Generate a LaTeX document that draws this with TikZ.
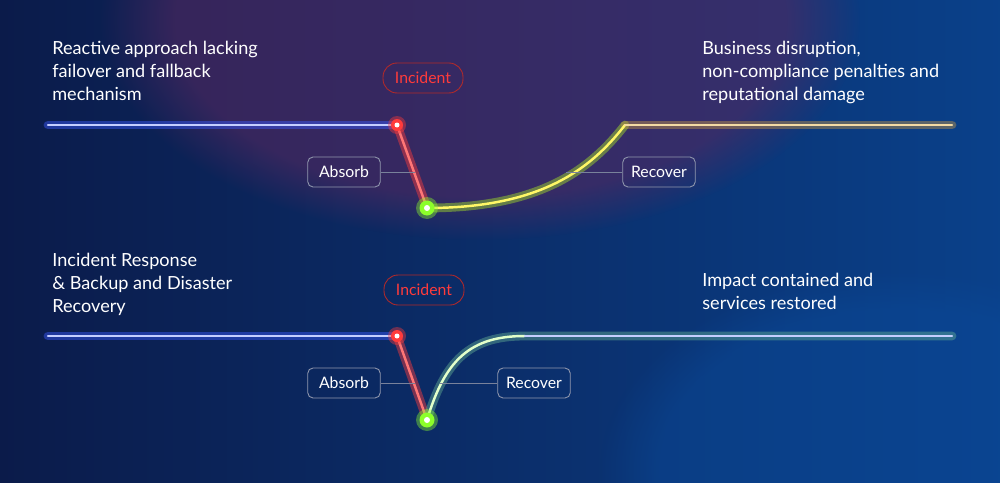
\documentclass[tikz,border=0pt]{standalone}
\usepackage{fontspec}
\setmainfont{Lato}
\usetikzlibrary{positioning,fadings}
\definecolor{bgdark}{HTML}{0B1B4A}
\definecolor{bgblue}{HTML}{0A4A9A}
\definecolor{bgpurple}{HTML}{5A2860}
\definecolor{glowblue}{HTML}{3A5BFF}
\definecolor{incred}{HTML}{FF3B3B}
\definecolor{recgreen}{HTML}{8CFF2A}
\definecolor{recorange}{HTML}{E0A21A}
\tikzset{
  tag/.style={draw=white!55!bgdark, rounded corners=3pt, text=white, font=\fontsize{9}{11}\selectfont,
    minimum width=1.45cm, minimum height=0.6cm, line width=0.5pt},
  incident/.style={tag, draw=incred!70!black, text=incred, rounded corners=8pt, minimum width=1.6cm},
  caption/.style={text=white, align=left, anchor=north west, font=\fontsize{10.3}{13}\selectfont, inner sep=0pt},
  pin/.style={draw=white!45!bgdark, line width=0.4pt},
  glow/.style={line width=5pt, draw opacity=0.45, line cap=round},
  core/.style={line width=1.4pt, line cap=round},
}
\begin{document}
\begin{tikzpicture}[x=0.02cm, y=-0.02cm]
  \useasboundingbox (0,0) rectangle (1000,483);
  % background
  \begin{scope}
    \clip (0,0) rectangle (1000,483);
    \shade[left color=bgdark, right color=bgblue!80!bgdark] (0,0) rectangle (1000,483);
    \fill[bgpurple, path fading=circle with fuzzy edge 20 percent, opacity=0.55] (480,20) ellipse (380 and 220);
    \fill[bgblue, path fading=circle with fuzzy edge 20 percent, opacity=0.45] (900,470) ellipse (300 and 200);
  \end{scope}

  % top: reactive
  \node[caption] (t1) at (52,41) {Reactive approach lacking\\failover and fallback\\mechanism};
  \node[caption] (t2) at (702,41) {Business disruption,\\non-compliance penalties and\\reputational damage};
  \coordinate (a0) at (48,125);
  \coordinate (a1) at (397,125);
  \coordinate (a2) at (427,208);
  \coordinate (a3) at (625,125);
  \coordinate (a4) at (952,125);
  \draw[glow, glowblue] (a0) -- (a1);
  \draw[core, white!70!glowblue] (a0) -- (a1);
  \draw[glow, incred] (a1) -- (a2);
  \draw[core, incred!70!white] (a1) -- (a2);
  \draw[glow, recgreen!70!recorange] (a2) .. controls (540,208) and (590,170) .. (a3);
  \draw[glow, recorange!80!glowblue] (a3) -- (a4);
  \draw[core, yellow!60!white] (a2) .. controls (540,208) and (590,170) .. (a3);
  \draw[core, recorange!40!white] (a3) -- (a4);
  \node[incident] (inc1) at (423,78) {Incident};
  \node[tag] (abs1) at (344,172) {Absorb};
  \node[tag] (rec1) at (659,172) {Recover};
  \coordinate (p1) at (415,172);
  \coordinate (q1) at (566,172);
  \draw[pin] (abs1.east) -- (p1);
  \draw[pin] (rec1.west) -- (q1);
  \fill[incred, opacity=0.4] (a1) circle (9);
  \fill[incred] (a1) circle (6);
  \fill[white] (a1) circle (2.5);
  \fill[recgreen, opacity=0.4] (a2) circle (11);
  \fill[recgreen] (a2) circle (7.5);
  \fill[white] (a2) circle (3);

  % bottom: IR and DR
  \node[caption] (b1) at (52,253) {Incident Response\\\& Backup and Disaster\\Recovery};
  \node[caption] (b2) at (702,273) {Impact contained and\\services restored};
  \coordinate (c0) at (48,336);
  \coordinate (c1) at (397,336);
  \coordinate (c2) at (427,420);
  \coordinate (c3) at (525,336);
  \coordinate (c4) at (952,336);
  \draw[glow, glowblue] (c0) -- (c1);
  \draw[core, white!70!glowblue] (c0) -- (c1);
  \draw[glow, incred] (c1) -- (c2);
  \draw[core, incred!70!white] (c1) -- (c2);
  \draw[glow, recgreen!50!glowblue] (c2) .. controls (445,360) and (470,336) .. (c3) -- (c4);
  \draw[core, white!75!recgreen] (c2) .. controls (445,360) and (470,336) .. (c3);
  \draw[core, white!70!glowblue] (c3) -- (c4);
  \node[incident] (inc2) at (424,290) {Incident};
  \node[tag] (abs2) at (344,383) {Absorb};
  \node[tag] (rec2) at (534,383) {Recover};
  \coordinate (p2) at (415,383);
  \coordinate (q2) at (440,383);
  \draw[pin] (abs2.east) -- (p2);
  \draw[pin] (rec2.west) -- (q2);
  \fill[incred, opacity=0.4] (c1) circle (9);
  \fill[incred] (c1) circle (6);
  \fill[white] (c1) circle (2.5);
  \fill[recgreen, opacity=0.4] (c2) circle (11);
  \fill[recgreen] (c2) circle (7.5);
  \fill[white] (c2) circle (3);
\end{tikzpicture}
\end{document}
